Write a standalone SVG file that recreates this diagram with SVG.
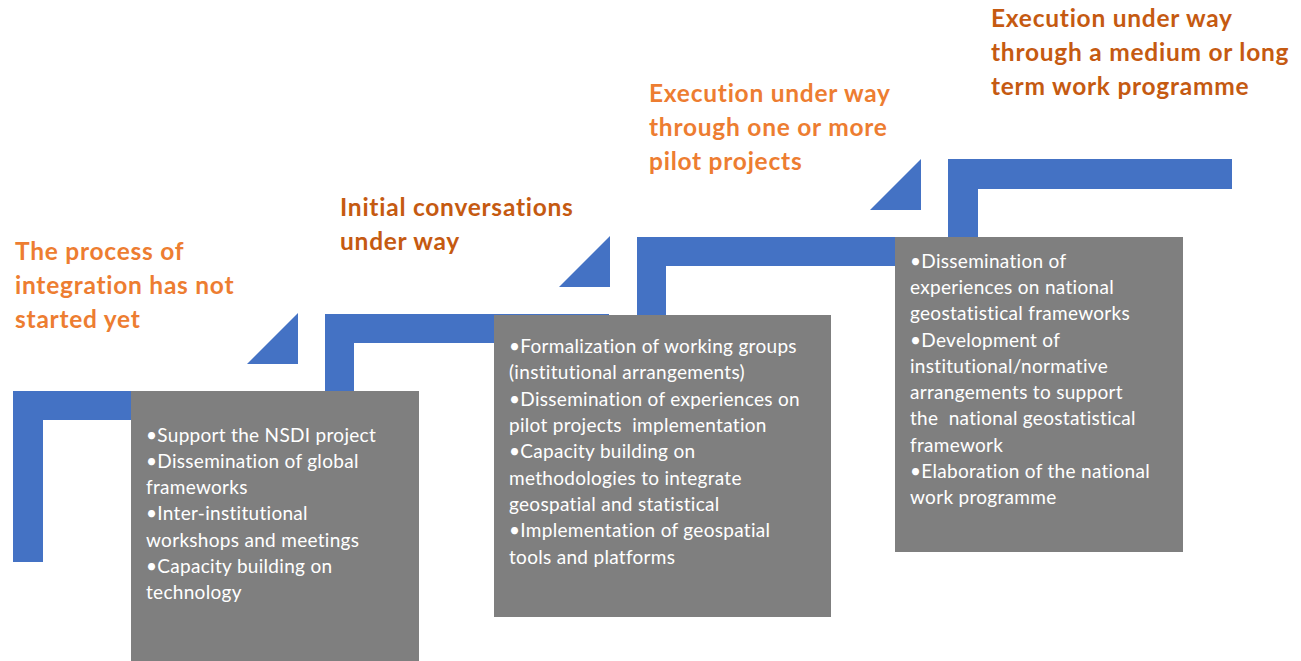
<svg xmlns="http://www.w3.org/2000/svg" width="1301" height="661" viewBox="0 0 1301 661">
<style>
.step{fill:#4472C4}
.box{fill:#7F7F7F}
.bt{font-family:Lato,"Open Sans","Liberation Sans",sans-serif;font-size:19px;letter-spacing:0.3px;fill:#FFFFFF;white-space:pre}
.t1{font-family:Lato,"Open Sans","Liberation Sans",sans-serif;font-size:24.5px;letter-spacing:0.75px;font-weight:bold;fill:#ED7D31}
.t2{font-family:Lato,"Open Sans","Liberation Sans",sans-serif;font-size:24.5px;letter-spacing:0.75px;font-weight:bold;fill:#C55A11}
</style>
<rect width="1301" height="661" fill="#FFFFFF"/>
<g id="connectors">
  <path class="step" d="M13,391 H298 V420 H43 V562 H13 Z"/>
  <polygon class="step" points="298,313 298,364 247,364"/>
  <path class="step" d="M325,314 H609 V343 H354 V480 H325 Z"/>
  <polygon class="step" points="610,236 610,287 559,287"/>
  <path class="step" d="M637,237 H920 V266 H666 V400 H637 Z"/>
  <polygon class="step" points="921,159 921,210 870,210"/>
  <path class="step" d="M948,159 H1232 V189 H978 V300 H948 Z"/>
</g>
<g id="stage1">
  <text class="t1"><tspan x="15" y="260">The process of</tspan><tspan x="15" y="294">integration has not</tspan><tspan x="15" y="328">started yet</tspan></text>
  <rect class="box" x="131" y="391" width="288" height="270"/>
  <text class="bt" xml:space="preserve"><tspan x="146" y="442">•Support the NSDI project</tspan><tspan x="146" y="468">•Dissemination of global</tspan><tspan x="146" y="494">frameworks</tspan><tspan x="146" y="520">•Inter-institutional</tspan><tspan x="146" y="547">workshops and meetings</tspan><tspan x="146" y="573">•Capacity building on</tspan><tspan x="146" y="599">technology</tspan></text>
</g>
<g id="stage2">
  <text class="t2"><tspan x="340" y="216">Initial conversations</tspan><tspan x="340" y="250">under way</tspan></text>
  <rect class="box" x="494" y="315" width="337" height="302"/>
  <text class="bt" xml:space="preserve"><tspan x="509" y="353">•Formalization of working groups</tspan><tspan x="509" y="379">(institutional arrangements)</tspan><tspan x="509" y="406">•Dissemination of experiences on</tspan><tspan x="509" y="432">pilot projects  implementation</tspan><tspan x="509" y="458">•Capacity building on</tspan><tspan x="509" y="485">methodologies to integrate</tspan><tspan x="509" y="511">geospatial and statistical</tspan><tspan x="509" y="537">•Implementation of geospatial</tspan><tspan x="509" y="564">tools and platforms</tspan></text>
</g>
<g id="stage3">
  <text class="t1"><tspan x="649" y="102">Execution under way</tspan><tspan x="649" y="136">through one or more</tspan><tspan x="649" y="170">pilot projects</tspan></text>
  <rect class="box" x="895" y="237" width="288" height="315"/>
  <text class="bt" xml:space="preserve"><tspan x="910" y="268">•Dissemination of</tspan><tspan x="910" y="294">experiences on national</tspan><tspan x="910" y="320">geostatistical frameworks</tspan><tspan x="910" y="347">•Development of</tspan><tspan x="910" y="373">institutional/normative</tspan><tspan x="910" y="399">arrangements to support</tspan><tspan x="910" y="425">the  national geostatistical</tspan><tspan x="910" y="452">framework</tspan><tspan x="910" y="478">•Elaboration of the national</tspan><tspan x="910" y="504">work programme</tspan></text>
</g>
<g id="stage4">
  <text class="t2"><tspan x="991" y="27">Execution under way</tspan><tspan x="991" y="61">through a medium or long</tspan><tspan x="991" y="95">term work programme</tspan></text>
</g>
</svg>
